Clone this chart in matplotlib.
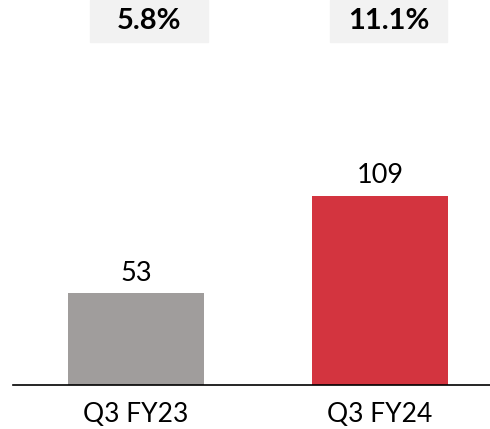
import matplotlib
matplotlib.use("Agg")
import matplotlib.pyplot as plt
from matplotlib.patches import Rectangle

categories = ["Q3 FY23", "Q3 FY24"]
values = [53, 109]
margins = ["5.8%", "11.1%"]
colors = ["#a09d9c", "#d3343f"]

plt.rcParams["font.family"] = ["Lato", "DejaVu Sans"]

W, H = 490, 429
fig = plt.figure(figsize=(W / 100, H / 100), dpi=100)

base_y = 385
top_y = 60
ax = fig.add_axes([13 / W, (H - base_y) / H, (W - 13) / W, (base_y - top_y) / H])
x = [0, 1]
ax.bar(x, values, width=0.557, color=colors)
ax.set_xlim(-0.504, 1.451)
ax.set_ylim(0, (base_y - top_y) / 1.735)
for xi, v in zip(x, values):
    ax.annotate(str(v), (xi, v), xytext=(0, 9), textcoords="offset points",
                ha="center", va="baseline", fontsize=19.5)
ax.set_xticks(x)
ax.set_xticklabels(categories, fontsize=19)
ax.tick_params(axis="x", length=0, pad=12)
ax.set_yticks([])
for s in ["top", "right", "left"]:
    ax.spines[s].set_visible(False)
ax.spines["bottom"].set_linewidth(1.2)

# margin boxes at the top
boxes = [(90, 208), (330, 447)]
for (x0, x1), txt in zip(boxes, margins):
    fig.patches.append(Rectangle((x0 / W, 1 - 42 / H), (x1 - x0) / W, 42 / H,
                                 transform=fig.transFigure, color="#f2f2f2", zorder=0))
    fig.text((x0 + x1) / 2 / W, 1 - 21 / H, txt, ha="center", va="center",
             fontsize=21, fontweight="bold")

fig.savefig("out.png", dpi=100)
